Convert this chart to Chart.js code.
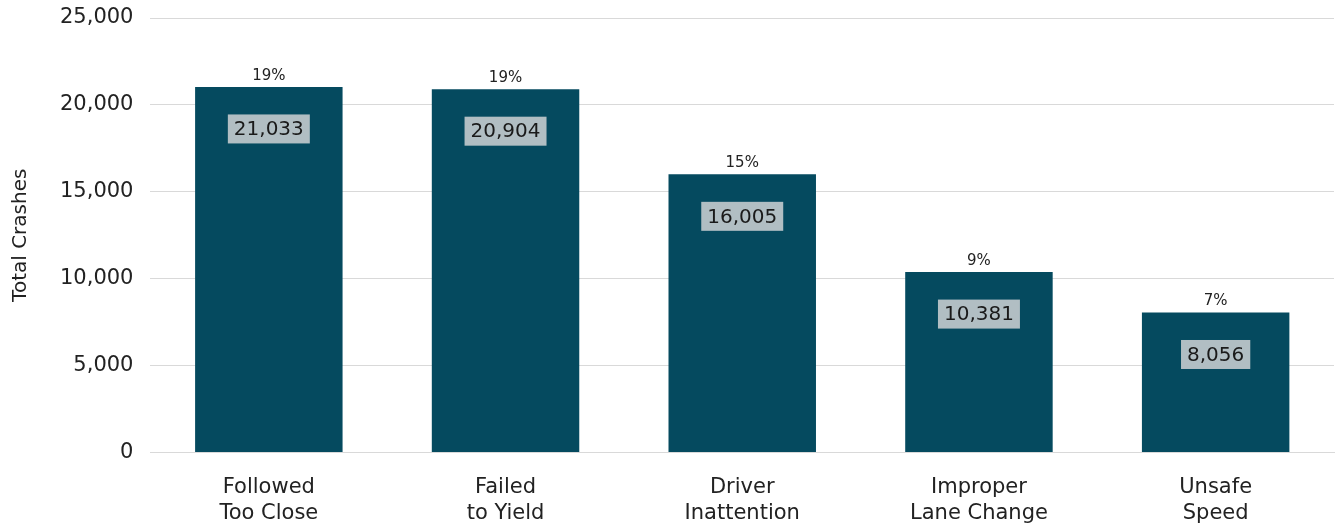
<!DOCTYPE html>
<html lang="en">
<head>
    <meta charset="UTF-8">
    <title>Total Crashes by Cause</title>
    <script src="https://cdn.jsdelivr.net/npm/chart.js"></script>
    <style>
        html, body { margin: 0; padding: 0; background: #fff; }
        #crashes { display: block; }
    </style>
</head>
<body>
    <canvas id="crashes" width="1338" height="525"></canvas>
    <script>
        const causes = [
            ["Followed", "Too Close"],
            ["Failed", "to Yield"],
            ["Driver", "Inattention"],
            ["Improper", "Lane Change"],
            ["Unsafe", "Speed"]
        ];
        const crashCounts = [21033, 20904, 16005, 10381, 8056];
        const shareLabels = ["19%", "19%", "15%", "9%", "7%"];

        const fontFamily = "'DejaVu Sans', sans-serif";

        // percent above each bar, count in a grey box inside it
        const barLabels = {
            id: "barLabels",
            afterDatasetsDraw(chart) {
                const { ctx } = chart;
                const meta = chart.getDatasetMeta(0);
                ctx.save();
                ctx.textAlign = "center";
                ctx.textBaseline = "middle";
                meta.data.forEach((bar, i) => {
                    ctx.font = "15px " + fontFamily;
                    ctx.fillStyle = "#222";
                    ctx.fillText(shareLabels[i], bar.x, bar.y - 11);

                    const text = crashCounts[i].toLocaleString("en-US");
                    ctx.font = "20px " + fontFamily;
                    const w = ctx.measureText(text).width + 12;
                    const h = 29;
                    const cy = bar.y + 42;
                    ctx.fillStyle = "#b1bec3";
                    ctx.fillRect(bar.x - w / 2, cy - h / 2, w, h);
                    ctx.fillStyle = "#1a1a1a";
                    ctx.fillText(text, bar.x, cy + 1);
                });
                ctx.restore();
            }
        };

        new Chart(document.getElementById("crashes"), {
            type: "bar",
            data: {
                labels: causes,
                datasets: [{
                    data: crashCounts,
                    backgroundColor: "#054a5f",
                    barPercentage: 0.623,
                    categoryPercentage: 1
                }]
            },
            options: {
                responsive: false,
                animation: false,
                layout: { padding: { top: 18, right: 4, left: 9, bottom: -16 } },
                plugins: {
                    legend: { display: false },
                    tooltip: { enabled: false }
                },
                scales: {
                    x: {
                        grid: { display: false },
                        border: { color: "#d9d9d9" },
                        ticks: {
                            color: "#222",
                            font: { family: fontFamily, size: 21, lineHeight: 1.25 },
                            padding: 14
                        }
                    },
                    y: {
                        min: 0,
                        max: 25000,
                        border: { display: false },
                        grid: { color: "#d9d9d9", tickLength: 17, tickColor: "transparent" },
                        ticks: {
                            stepSize: 5000,
                            color: "#222",
                            padding: 0,
                            font: { family: fontFamily, size: 21 },
                            callback: v => v.toLocaleString("en-US")
                        },
                        title: {
                            display: true,
                            text: "Total Crashes",
                            color: "#222",
                            font: { family: fontFamily, size: 20 },
                            padding: { top: 0, bottom: 27 }
                        }
                    }
                }
            },
            plugins: [barLabels]
        });
    </script>
</body>
</html>
